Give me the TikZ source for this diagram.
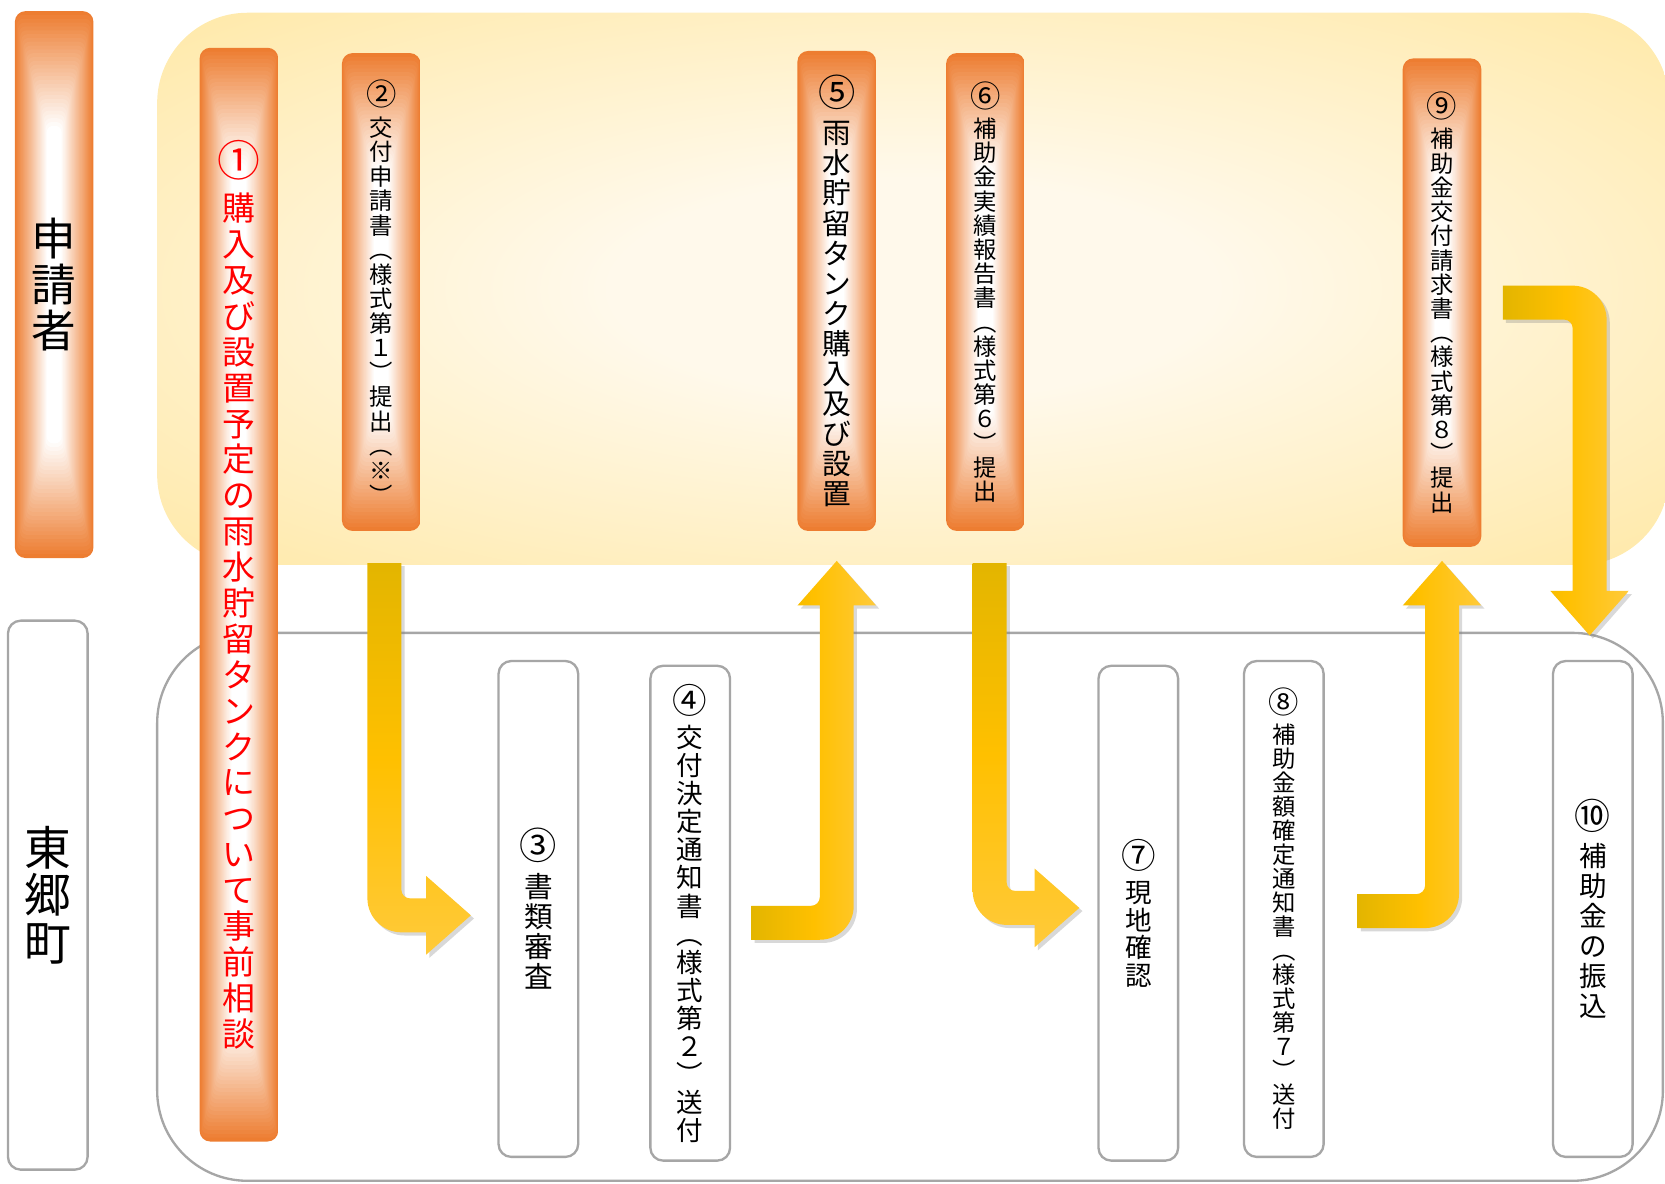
\documentclass[tikz,border=0pt]{standalone}
\usepackage{fontspec}
\newfontfamily\jp{Noto Sans CJK JP}
\usetikzlibrary{calc, shadows}

\definecolor{barorange}{HTML}{ED7D31}
\definecolor{bandin}{HTML}{FFF9EB}
\definecolor{bandout}{HTML}{FFE28C}
\definecolor{lineGray}{HTML}{A6A6A6}
\definecolor{golddark}{HTML}{E3B500}
\definecolor{goldmid}{HTML}{FFC000}
\definecolor{goldlight}{HTML}{FFCA3A}

\pgfdeclareradialshading{bandglow}{\pgfpoint{0bp}{0bp}}{color(0bp)=(bandin); color(10bp)=(bandin); color(46bp)=(bandout); color(75bp)=(bandout)}

% vertical text: one glyph per line
\let\tateend\relax
\def\tateloop#1{\ifx#1\tateend\else\hbox to 1em{\hss#1\hss}\expandafter\tateloop\fi}
\newcommand\tate[2]{\vbox{\baselineskip=#2pt\lineskiplimit=-100pt\lineskip=0pt\tateloop#1\tateend}}
\newcommand\tatenum[3]{\vbox{\baselineskip=#3pt\lineskiplimit=-100pt\lineskip=0pt
  \hbox to 1em{\hss\scalebox{1.3}{#1}\hss}\vskip 0.25em\tateloop#2\tateend}}

\tikzset{
  tatefont/.style={font=\jp\fontsize{#1}{#1}\selectfont},
  orangebar/.style={rounded corners=10pt, minimum width=74pt, inner sep=0pt,
    path picture={
      \foreach \k in {0,...,30}{
        \pgfmathsetmacro\mx{100-\k*100/30}
        \fill[barorange!\mx!white, rounded corners=6pt]
          ($(path picture bounding box.south west)+(\k*1pt,\k*3.6pt)$) rectangle
          ($(path picture bounding box.north east)-(\k*1pt,\k*3.6pt)$);
      }}},
  whitebar/.style={draw=lineGray, line width=2.2pt, fill=white, rounded corners=12pt,
    minimum width=75pt, inner sep=0pt},
  goldarrow/.style={drop shadow={shadow xshift=3pt, shadow yshift=-3pt, opacity=0.3}}
}

% block arrows, tail and tip given as coordinates
\newcommand\downright[2]{%
  \shade[goldarrow, top color=golddark, bottom color=goldlight, middle color=goldmid]
    let \p1=(#1), \p2=(#2) in
    (\x1-16pt,\y1) [rounded corners=32pt] -- (\x1-16pt,\y2-16pt) [sharp corners] -- (\x2-42pt,\y2-16pt)
    -- (\x2-42pt,\y2-37pt) -- (\x2,\y2) -- (\x2-42pt,\y2+37pt) -- (\x2-42pt,\y2+16pt)
    [rounded corners=8pt] -- (\x1+16pt,\y2+16pt) [sharp corners] -- (\x1+16pt,\y1) -- cycle;}
\newcommand\rightup[2]{%
  \shade[goldarrow, left color=golddark, right color=goldlight, middle color=goldmid]
    let \p1=(#1), \p2=(#2) in
    (\x1,\y1-16pt) [rounded corners=32pt] -- (\x2+16pt,\y1-16pt) [sharp corners] -- (\x2+16pt,\y2-42pt)
    -- (\x2+37pt,\y2-42pt) -- (\x2,\y2) -- (\x2-37pt,\y2-42pt) -- (\x2-16pt,\y2-42pt)
    [rounded corners=8pt] -- (\x2-16pt,\y1+16pt) [sharp corners] -- (\x1,\y1+16pt) -- cycle;}
\newcommand\rightdown[2]{%
  \shade[goldarrow, left color=golddark, right color=goldlight, middle color=goldmid]
    let \p1=(#1), \p2=(#2) in
    (\x1,\y1+16pt) [rounded corners=32pt] -- (\x2+16pt,\y1+16pt) [sharp corners] -- (\x2+16pt,\y2+42pt)
    -- (\x2+37pt,\y2+42pt) -- (\x2,\y2) -- (\x2-37pt,\y2+42pt) -- (\x2-16pt,\y2+42pt)
    [rounded corners=8pt] -- (\x2-16pt,\y1-16pt) [sharp corners] -- (\x1,\y1-16pt) -- cycle;}

\begin{document}
\begin{tikzpicture}[x=1pt, y=-1pt]
  \useasboundingbox (0,0) rectangle (1568,1115);

  % the two bands
  \shade[shading=bandglow, rounded corners=85pt] (148,12) rectangle (1572,532);
  \draw[lineGray, line width=2.2pt, fill=white, rounded corners=85pt] (148,596) rectangle (1566,1112);

  % applicant side
  \node[orangebar, minimum height=515pt, tatefont=42] (applicant) at (51,268) {\tate{申請者}{43}};
  \node[orangebar, minimum height=1030pt, tatefont=31, text=red] (s1) at (225,560)
    {\tatenum{①}{購入及び設置予定の雨水貯留タンクについて事前相談}{33.8}};
  \node[orangebar, minimum height=450pt, tatefont=22] (s2) at (359,275)
    {\tatenum{②}{交付申請書︵様式第１︶提出︵※︶}{23.1}};
  \node[orangebar, minimum height=452pt, tatefont=27] (s5) at (788,274)
    {\tatenum{⑤}{雨水貯留タンク購入及び設置}{28.3}};
  \node[orangebar, minimum height=450pt, tatefont=22] (s6) at (928,275)
    {\tatenum{⑥}{補助金実績報告書︵様式第６︶提出}{22.8}};
  \node[orangebar, minimum height=460pt, tatefont=22] (s9) at (1358,285)
    {\tatenum{⑨}{補助金交付請求書︵様式第８︶提出}{22.8}};

  % town side
  \node[whitebar, minimum height=517pt, tatefont=44] (town) at (45,843) {\tate{東郷町}{45}};
  \node[whitebar, minimum height=467pt, tatefont=27] (s3) at (507,856) {\tatenum{③}{書類審査}{28.5}};
  \node[whitebar, minimum height=466pt, tatefont=25] (s4) at (650,860)
    {\tatenum{④}{交付決定通知書︵様式第２︶送付}{26.4}};
  \node[whitebar, minimum height=466pt, tatefont=25] (s7) at (1072,860) {\tatenum{⑦}{現地確認}{26}};
  \node[whitebar, minimum height=467pt, tatefont=22] (s8) at (1209,856)
    {\tatenum{⑧}{補助金額確定通知書︵様式第７︶送付}{22.6}};
  \node[whitebar, minimum height=467pt, tatefont=26] (s10) at (1500,856) {\tatenum{⑩}{補助金の振込}{28.2}};

  % arrows
  \coordinate (a1t) at ($(s2.south)+(3,30)$);
  \coordinate (a1p) at ($(s3.west)+(-25,6)$);
  \coordinate (a2t) at ($(s4.east)+(19,9)$);
  \coordinate (a2p) at ($(s5.south)+(0,28)$);
  \coordinate (a3t) at ($(s6.south)+(4,30)$);
  \coordinate (a3p) at ($(s7.west)+(-17,-5)$);
  \coordinate (a4t) at ($(s8.east)+(31,2)$);
  \coordinate (a4p) at ($(s9.south)+(0,13)$);
  \coordinate (a5t) at ($(s9.east)+(20,0)$);
  \coordinate (a5p) at ($(s10.north)+(-3,-23)$);
  \downright{a1t}{a1p}
  \rightup{a2t}{a2p}
  \downright{a3t}{a3p}
  \rightup{a4t}{a4p}
  \rightdown{a5t}{a5p}
\end{tikzpicture}
\end{document}
